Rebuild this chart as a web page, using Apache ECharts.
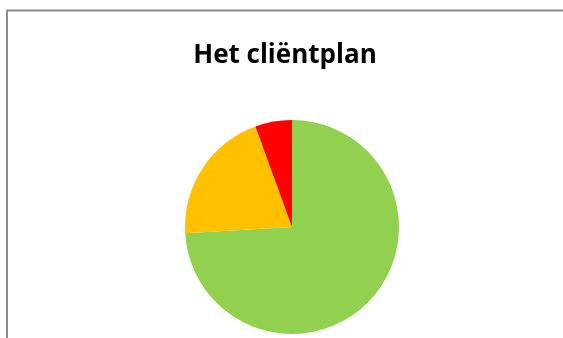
<!DOCTYPE html>
<html>
<head>
<meta charset="utf-8">
<script src="https://cdn.jsdelivr.net/npm/echarts@6/dist/echarts.min.js"></script>
<style>
  html, body { margin: 0; padding: 0; background: #ffffff; }
  #chart { width: 563px; height: 338px; }
</style>
</head>
<body>
<div id="chart"></div>
<script>
// Slices of the plan, in drawing order (clockwise from 12 o'clock)
const categories = ['Groen', 'Oranje', 'Rood'];
const values = [40, 11, 3];
const colors = ['#92D050', '#FFC000', '#FF0000'];
const titleText = 'Het cliëntplan';

const chart = echarts.init(document.getElementById('chart'), null, { renderer: 'canvas' });

chart.setOption({
  backgroundColor: '#ffffff',
  animation: false,
  title: {
    text: titleText,
    left: 280,
    top: 38,
    textAlign: 'center',
    textStyle: {
      fontFamily: 'Open Sans',
      fontWeight: 'bold',
      fontSize: 26,
      color: '#000000'
    }
  },
  graphic: [{
    type: 'rect',
    shape: { x: 7, y: 10.5, width: 620, height: 400 },
    style: { fill: 'none', stroke: '#8c8c8c', lineWidth: 2 },
    silent: true
  }],
  series: [{
    type: 'pie',
    center: [292, 227],
    radius: 107,
    startAngle: 90,
    clockwise: true,
    label: { show: false },
    labelLine: { show: false },
    itemStyle: { borderWidth: 0 },
    data: categories.map((name, i) => ({
      name: name,
      value: values[i],
      itemStyle: { color: colors[i] }
    }))
  }]
});
</script>
</body>
</html>
